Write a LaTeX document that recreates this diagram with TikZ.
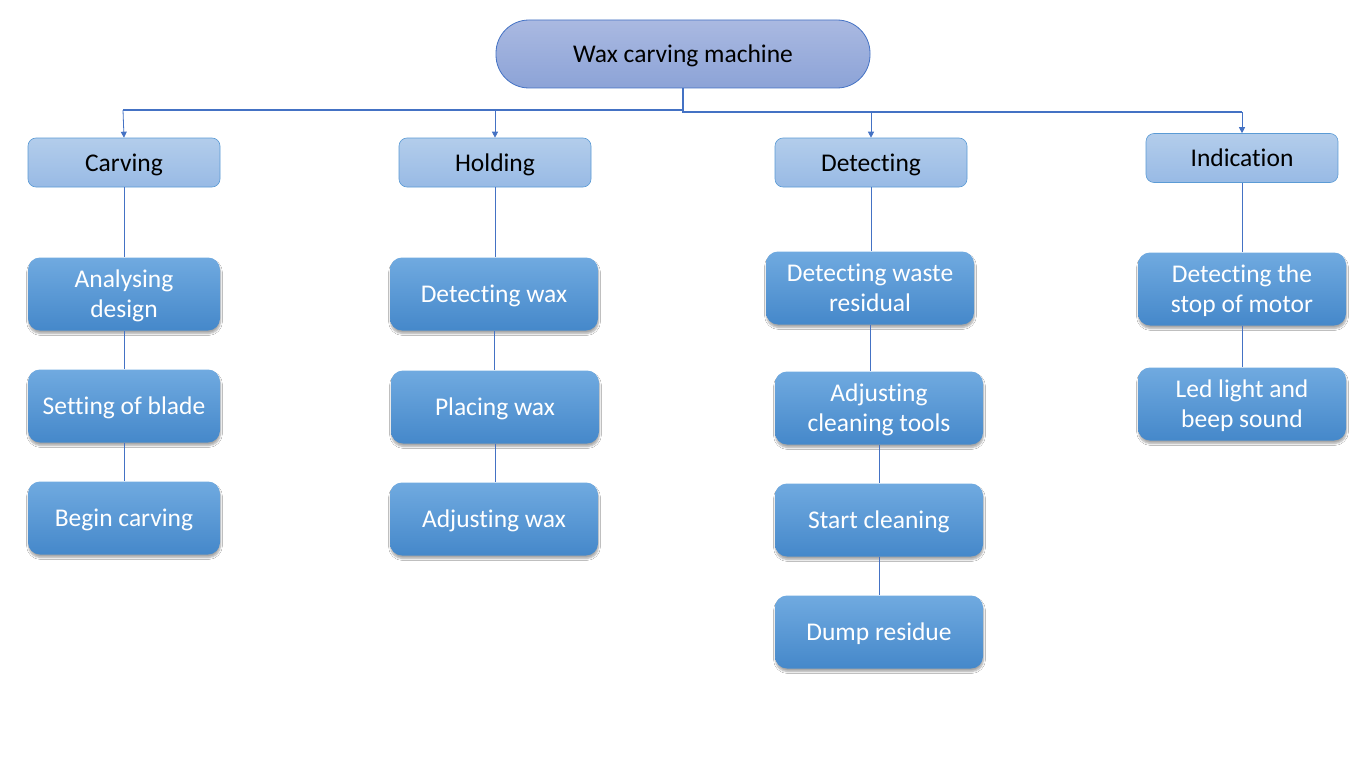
\documentclass[tikz,border=0pt]{standalone}
\usepackage{fontspec}
\setmainfont{Carlito}[RawFeature=-liga]
\usetikzlibrary{shadows.blur,arrows.meta}
\definecolor{edge}{HTML}{4472C4}
\definecolor{lvtop}{HTML}{AAB9E1}
\definecolor{lvbot}{HTML}{8CA3D7}
\definecolor{midtop}{HTML}{B3CDEB}
\definecolor{midbot}{HTML}{98BAE5}
\definecolor{midedge}{HTML}{5B9BD5}
\definecolor{leaftop}{HTML}{70AAE0}
\definecolor{leafbot}{HTML}{4588CA}
\newcommand\lbl[1]{\raisebox{-2.5pt}[\height][\depth]{\begin{tabular}{@{}c@{}}#1\end{tabular}}}
\tikzset{
  rootbox/.style={draw=edge, line width=0.8pt, top color=lvtop, bottom color=lvbot,
    rounded corners=33pt, minimum width=374pt, minimum height=68pt, font=\fontsize{25.5}{30}\selectfont, text=black, inner sep=0pt},
  midbox/.style={draw=midedge, line width=0.6pt, top color=midtop, bottom color=midbot,
    rounded corners=8pt, minimum width=192pt, minimum height=49pt, font=\fontsize{25.5}{30}\selectfont, text=black, inner sep=0pt},
  leafbox/.style={draw=none, top color=leaftop, bottom color=leafbot,
    rounded corners=12pt, minimum height=73pt, font=\fontsize{25.5}{30}\selectfont, text=white, inner sep=0pt,
    blur shadow={shadow blur steps=6, shadow xshift=0.5pt, shadow yshift=-3pt, shadow opacity=35}},
  lw/.style={leafbox, minimum width=192pt},
  ww/.style={leafbox, minimum width=208pt},
  bus/.style={draw=edge, line width=1.5pt},
  arr/.style={draw=edge, line width=0.8pt, -{Triangle[length=6pt,width=6pt]}},
  link/.style={draw=edge, line width=0.8pt}
}
\begin{document}
\begin{tikzpicture}[x=1pt,y=-1pt]
\useasboundingbox[fill=white] (0,0) rectangle (1366,768);
% root
\node[rootbox] (root) at (683,54) {\lbl{Wax carving machine}};
% level 2
\node[midbox] (carving) at (124,162.5) {\lbl{Carving}};
\node[midbox] (holding) at (495,162.5) {\lbl{Holding}};
\node[midbox] (detecting) at (871,162.5) {\lbl{Detecting}};
\node[midbox] (indication) at (1242,158) {\lbl{Indication}};
% leaves
\node[lw] (c1) at (124,294) {\lbl{Analysing\\design}};
\node[lw] (c2) at (124,406) {\lbl{Setting of blade}};
\node[lw] (c3) at (124,518) {\lbl{Begin carving}};
\node[ww] (h1) at (494,294) {\lbl{Detecting wax}};
\node[ww] (h2) at (495,407) {\lbl{Placing wax}};
\node[ww] (h3) at (494,519) {\lbl{Adjusting wax}};
\node[ww] (d1) at (870,288) {\lbl{Detecting waste\\residual}};
\node[ww] (d2) at (879,408) {\lbl{Adjusting\\cleaning tools}};
\node[ww] (d3) at (879,520) {\lbl{Start cleaning}};
\node[ww] (d4) at (879,632) {\lbl{Dump residue}};
\node[ww] (i1) at (1242,289) {\lbl{Detecting the\\stop of motor}};
\node[ww] (i2) at (1242,404) {\lbl{Led light and\\beep sound}};
% bus
\coordinate (bl) at (123,110);
\coordinate (br) at (1242,112);
\draw[bus] (root.south) -- (root.south |- br) -- (br);
\draw[bus] (root.south |- bl) -- (bl);
\draw[arr] (bl) -- (carving.north);
\draw[arr] (holding.north |- bl) -- (holding.north);
\draw[arr] (detecting.north |- br) -- (detecting.north);
\draw[arr] (br) -- (indication.north);
% links
\draw[link] (carving.south) -- (carving.south |- c1.north);
\draw[link] (c1.south) -- (c1.south |- c2.north);
\draw[link] (c2.south) -- (c2.south |- c3.north);
\draw[link] (holding.south) -- (holding.south |- h1.north);
\draw[link] (h1.south) -- (h1.south |- h2.north);
\draw[link] (h2.south) -- (h2.south |- h3.north);
\draw[link] (detecting.south) -- (detecting.south |- d1.north);
\draw[link] (d1.south) -- (d1.south |- d2.north);
\draw[link] (d2.south) -- (d2.south |- d3.north);
\draw[link] (d3.south) -- (d3.south |- d4.north);
\draw[link] (indication.south) -- (indication.south |- i1.north);
\draw[link] (i1.south) -- (i1.south |- i2.north);
\end{tikzpicture}
\end{document}
